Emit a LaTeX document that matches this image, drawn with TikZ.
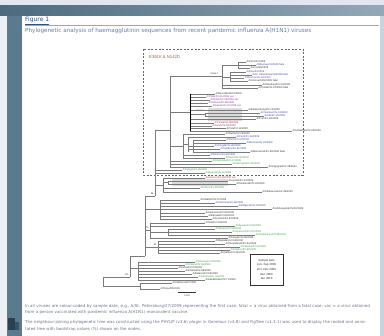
\documentclass[tikz,border=0pt]{standalone}
\usepackage{fontspec}
\setmainfont{DejaVu Sans}
\newfontfamily\treefont{Liberation Sans}
\definecolor{topband}{HTML}{E2E6F0}
\definecolor{slate}{HTML}{5A7B8F}
\definecolor{slatedark}{HTML}{4B6A7E}
\definecolor{slatelight}{HTML}{93A9B8}
\definecolor{edgelight}{HTML}{ECEFF3}
\definecolor{rightedge}{HTML}{C9D3DE}
\definecolor{darkblob}{HTML}{2C4050}
\definecolor{headblue}{HTML}{2F4F86}
\definecolor{capblue}{HTML}{5F7FB0}
\definecolor{boxred}{HTML}{D03A36}
\definecolor{labred}{HTML}{C8502E}
\definecolor{brgrey}{HTML}{7A7A7A}
\definecolor{tblk}{HTML}{333333}
\definecolor{tblue}{HTML}{3A48A8}
\definecolor{tpurp}{HTML}{8E3AA6}
\definecolor{tgreen}{HTML}{3E9E40}
\definecolor{tred}{HTML}{C23030}
\definecolor{greybox}{HTML}{DCDCDC}
\definecolor{foottext}{HTML}{6E7686}
\newcounter{leafno}
\tikzset{
  br/.style={draw=brgrey, line width=0.35pt},
  lab/.style={font=\treefont\fontsize{2.6}{2.8}\selectfont, inner sep=0.4pt, anchor=west},
  boot/.style={font=\treefont\fontsize{2.3}{2.5}\selectfont, inner sep=0.3pt, text=tblk},
}
\newcommand\tleaf[5]{\stepcounter{leafno}\draw[br] (#1,#2) -- (#3,#2) node[lab,text=#5] (lf\theleafno) {#4};}
\newcommand\tvert[3]{\draw[br] (#1,#2) -- (#1,#3);}
\newcommand\thor[3]{\draw[br] (#2,#1) -- (#3,#1);}
\begin{document}
\begin{tikzpicture}[x=1pt,y=-1pt]
\useasboundingbox (0,0) rectangle (384,336);
% ---------- background ----------
\fill[slate] (0,0) rectangle (384,336);
\fill[edgelight] (0,16) rectangle (7,336);
\shade[left color=slatedark, right color=slatelight] (0,5.5) rectangle (384,16);
\fill[topband] (0,0) rectangle (384,5.5);
\fill[rightedge] (380,16) rectangle (384,336);
\fill[darkblob] (8,318) rectangle (15,330);
\fill[darkblob, opacity=0.7] (15,322) rectangle (19,330);
\fill[white] (22,16) rectangle (380,336);
% ---------- header ----------
\node[anchor=west, inner sep=0, text=headblue, font=\fontsize{6}{6.5}\selectfont] (fig) at (25,20.5) {\underline{Figure 1}};
\draw[gray!70, line width=0.5pt] (25,25.5) -- (379,25.5);
\node[anchor=west, inner sep=0, text=capblue, font=\fontsize{5.65}{6}\selectfont] (cap) at (25,31) {Phylogenetic analysis of haemagglutinin sequences from recent pandemic influenza A(H1N1) viruses};
% ---------- red dashed box ----------
\draw[boxred, line width=0.6pt, dash pattern=on 2pt off 1.6pt] (143,49) rectangle (303,175);
\node[anchor=west, inner sep=0, text=labred, font=\treefont\fontsize{4.2}{5}\selectfont] (mut) at (149,57) {E391K \& N142D};
% ---------- tree ----------
% top clade
\thor{76}{170}{222}
\node[boot, anchor=south east] (c1) at (219,75.5) {Clade 7};
\tvert{222}{65}{88}
\thor{65}{222}{238} \tvert{238}{62}{68}
\tleaf{238}{62}{246}{A/Perm/01/2009}{tblk}
\tleaf{238}{65}{256}{A/Moscow/01/2009 fatal}{tblue}
\tleaf{238}{68}{250}{A/Lviv/N6/2009}{tblk}
\thor{77}{222}{230} \tvert{230}{72}{81}
\tleaf{230}{72}{246}{A/Kiev/01/2009}{tblue}
\tleaf{230}{75}{252}{A/St. Petersburg/10/2009 fatal}{tblue}
\tleaf{230}{78}{244}{A/Moscow/IIV-04/2009}{tpurp}
\tleaf{230}{81}{248}{A/Voronezh/02/2009 fatal}{tblk}
\tleaf{222}{85}{262}{A/Orenburg/IIV-03/2009}{tblk}
\tleaf{222}{88}{258}{A/Tomsk/IIV-22/2009 fatal}{tblk}
% comb
\fill[greybox] (208,108) rectangle (242,121);
\thor{112}{170}{190}
\node[boot, anchor=south east] (c2) at (205,112) {Clade 6};
\tleaf{190}{94}{215}{A/Novosibirsk/01/2009}{tblk}
\tleaf{190}{97}{206}{A/Chita/IIV-01/2009 vac}{tpurp}
\tleaf{190}{100}{210}{A/Omsk/IIV-02/2009 vac}{tpurp}
\tleaf{190}{103}{208}{A/Samara/IIV-05/2009}{tpurp}
\tleaf{190}{106}{212}{A/Kazan/IIV-07/2009 vac}{tpurp}
\tleaf{190}{110}{248}{A/Ekaterinburg/IIV-12/2009}{tblk}
\thor{114.5}{190}{205} \tvert{205}{113}{116}
\tleaf{205}{113}{260}{A/Yaroslavl/IIV-13/2009}{tblue}
\tleaf{205}{116}{264}{A/Ufa/IIV-15/2009}{tblue}
\tleaf{190}{119}{256}{A/Tver/IIV-20/2009}{tblk}
\tleaf{190}{123}{214}{A/Penza/IIV-08/2009}{tred}
\tleaf{190}{126}{212}{A/Kursk/IIV-09/2009}{tpurp}
\tleaf{190}{128.5}{226}{A/Tula/IIV-11/2009}{tblk}
\tleaf{190}{131}{292}{A/Astrakhan/IIV-03/2009}{tblk}
\draw[black, line width=0.8pt] (190,94) -- (190,131);
% blue clade
\thor{146}{170}{183} \tvert{183}{134}{158}
\thor{144}{183}{188} \tvert{188}{137}{152}
\thor{146}{188}{193} \tvert{193}{140}{152}
\tleaf{183}{134}{225}{A/Irkutsk/IIV-24/2009}{tblk}
\tleaf{188}{137}{236}{A/Perm/IIV-26/2009}{tblue}
\tleaf{193}{140}{226}{A/Kirov/IIV-27/2009}{tblue}
\tleaf{193}{143}{246}{A/Moscow/IIV-29/2009}{tblue}
\tleaf{188}{146}{214}{A/Vologda/IIV-30/2009}{tblue}
\tleaf{188}{149}{220}{A/Tambov/IIV-31/2009}{tblue}
\tleaf{193}{152}{250}{A/Murmansk/IIV-33/2009 fatal}{tblk}
\tleaf{183}{155}{210}{A/Rostov/IIV-35/2009}{tblue}
\tleaf{183}{158}{225}{A/Sochi/IIV-36/2009}{tgreen}
\tleaf{170}{161}{212}{A/Krasnodar/IIV-37/2009}{tgreen}
\tleaf{170}{164}{232}{A/Stavropol/IIV-39/2009}{tgreen}
\tleaf{170}{167}{268}{A/Volgograd/IIV-38/2009}{tblk}
\tvert{170}{76}{167}
% T spine
\thor{130}{155}{170} \tvert{155}{130}{196}
\tleaf{155}{170}{182}{A/Kaluga/IIV-40/2009}{tgreen}
\tleaf{155}{173}{205}{A/Bryansk/IIV-41/2009}{tgreen}
\fill[greybox] (172,179) rectangle (228,186);
\thor{185}{155}{163} \tvert{163}{178}{192}
\tleaf{163}{178}{205}{A/Ivanovo/IIV-42/2009 vac}{tred}
\thor{182.5}{163}{168} \tvert{168}{181}{184}
\tleaf{168}{181}{228}{A/Lipetsk/IIV-43/2009}{tblk}
\tleaf{168}{184}{236}{A/Smolensk/IIV-44/2009}{tblk}
\tleaf{163}{188}{200}{A/Pskov/IIV-45/2009}{tgreen}
\tleaf{163}{192}{262}{A/Khabarovsk/IIV-46/2009}{tblk}
% S spine
\thor{196}{145}{155} \tvert{145}{196}{256}
\node[boot, anchor=south east] (b1) at (154,195.5) {98};
\thor{209}{145}{160} \tvert{160}{200}{219}
\tleaf{160}{200}{200}{A/Vladimir/IIV-47/2009}{tblk}
\tleaf{160}{203}{215}{A/Kostroma/IIV-48/2009}{tblue}
\tleaf{160}{206}{238}{A/Belgorod/IIV-49/2009}{tblue}
\tleaf{160}{209}{272}{A/Arkhangelsk/IIV-50/2009}{tblk}
\tleaf{160}{213}{205}{A/Kemerovo/IIV-51/2009}{tblk}
\tleaf{160}{216}{208}{A/Barnaul/IIV-52/2009}{tblk}
\tleaf{160}{219}{212}{A/Tyumen/IIV-53/2009}{tblk}
\thor{230}{145}{150} \tvert{150}{223}{238}
\node[boot, anchor=south east] (b2) at (149,229.5) {72};
\tleaf{150}{223}{205}{A/Orel/IIV-54/2009}{tblk}
\tleaf{150}{226}{235}{A/Ryazan/IIV-55/2009}{tgreen}
\thor{232}{150}{168} \tvert{168}{229}{235}
\tleaf{168}{229}{215}{A/Saratov/IIV-56/2009}{tgreen}
\tleaf{168}{232}{232}{A/Ulyanovsk/IIV-57/2009}{tgreen}
\tleaf{168}{235}{255}{A/Cheboksary/IIV-58/2009}{tgreen}
\tleaf{150}{238}{228}{A/Kurgan/IIV-59/2009}{tblk}
\thor{247}{145}{158} \tvert{158}{241}{253}
\node[boot, anchor=south east] (b3) at (157,246.5) {85};
\tleaf{158}{241}{215}{A/Magadan/IIV-60/2009}{tblk}
\tleaf{158}{244}{225}{A/Chelyabinsk/IIV-61/2009}{tblk}
\tleaf{158}{247}{240}{A/Yakutsk/IIV-62/2009}{tgreen}
\tleaf{158}{250}{230}{A/Tambov/IIV-63/2009}{tgreen}
\tleaf{158}{253}{220}{A/Vyatka/IIV-64/2009}{tblk}
% N1
\thor{256}{130}{145} \tvert{130}{256}{277}
\thor{268}{130}{138} \tvert{138}{262}{280}
\node[boot, anchor=south east] (b4) at (129,276.5) {100};
\tleaf{138}{262}{195}{A/Norway/IIV-65/2009}{tgreen}
\tleaf{138}{265}{185}{A/Finland/IIV-66/2009}{tgreen}
\tleaf{138}{268}{178}{A/Latvia/IIV-67/2009}{tblk}
\tleaf{138}{271}{185}{A/Estonia/IIV-68/2009}{tblk}
\tleaf{138}{274}{192}{A/Belarus/IIV-69/2009}{tblk}
\tleaf{138}{277}{198}{A/Ukraine/IIV-70/2009}{tgreen}
\tleaf{138}{280}{205}{A/Kazakhstan/IIV-71/2009}{tblk}
% root
\tvert{103}{277}{286} \thor{277}{103}{130}
\thor{286}{103}{140} \tvert{140}{283}{289}
\tleaf{140}{283}{172}{A/California/07/2009}{tblk}
\tleaf{140}{289}{160}{A/Texas/05/2009}{tblk}
% scale bar
\draw[tblk, line width=0.35pt] (178,292) -- (196,292);
\node[boot] (scale) at (187,296) {0.002};
% legend
\draw[tblk, line width=0.4pt] (250,254) rectangle (283,285);
\node[align=center, inner sep=0, text=tblk, font=\treefont\fontsize{2.9}{4.6}\selectfont] (legend) at (266.5,269.5) {Sample date\\Jun--Sep 2009\\Oct--Nov 2009\\Dec 2009\\Jan 2010};
% ---------- footnotes ----------
\node[anchor=north west, inner sep=0, text width=348pt, align=left, text=foottext, font=\fontsize{4}{6.6}\selectfont] (foot1) at (25,304) {In all viruses are colour-coded by sample date, e.g., A/St. Petersburg/27/2009 representing the first case; fatal = a virus obtained from a fatal case; vac = a virus obtained from a person vaccinated with pandemic influenza A(H1N1) monovalent vaccine.};
\node[anchor=north west, inner sep=0, text width=348pt, align=left, text=foottext, font=\fontsize{4}{6.6}\selectfont] (foot2) at (25,320.5) {The neighbour-joining phylogenetic tree was constructed using the PHYLIP (v3.6) plugin in Geneious (v4.8) and FigTree (v1.3.1) was used to display the rooted and annotated tree with bootstrap values (\%) shown on the nodes.};
\end{tikzpicture}
\end{document}
